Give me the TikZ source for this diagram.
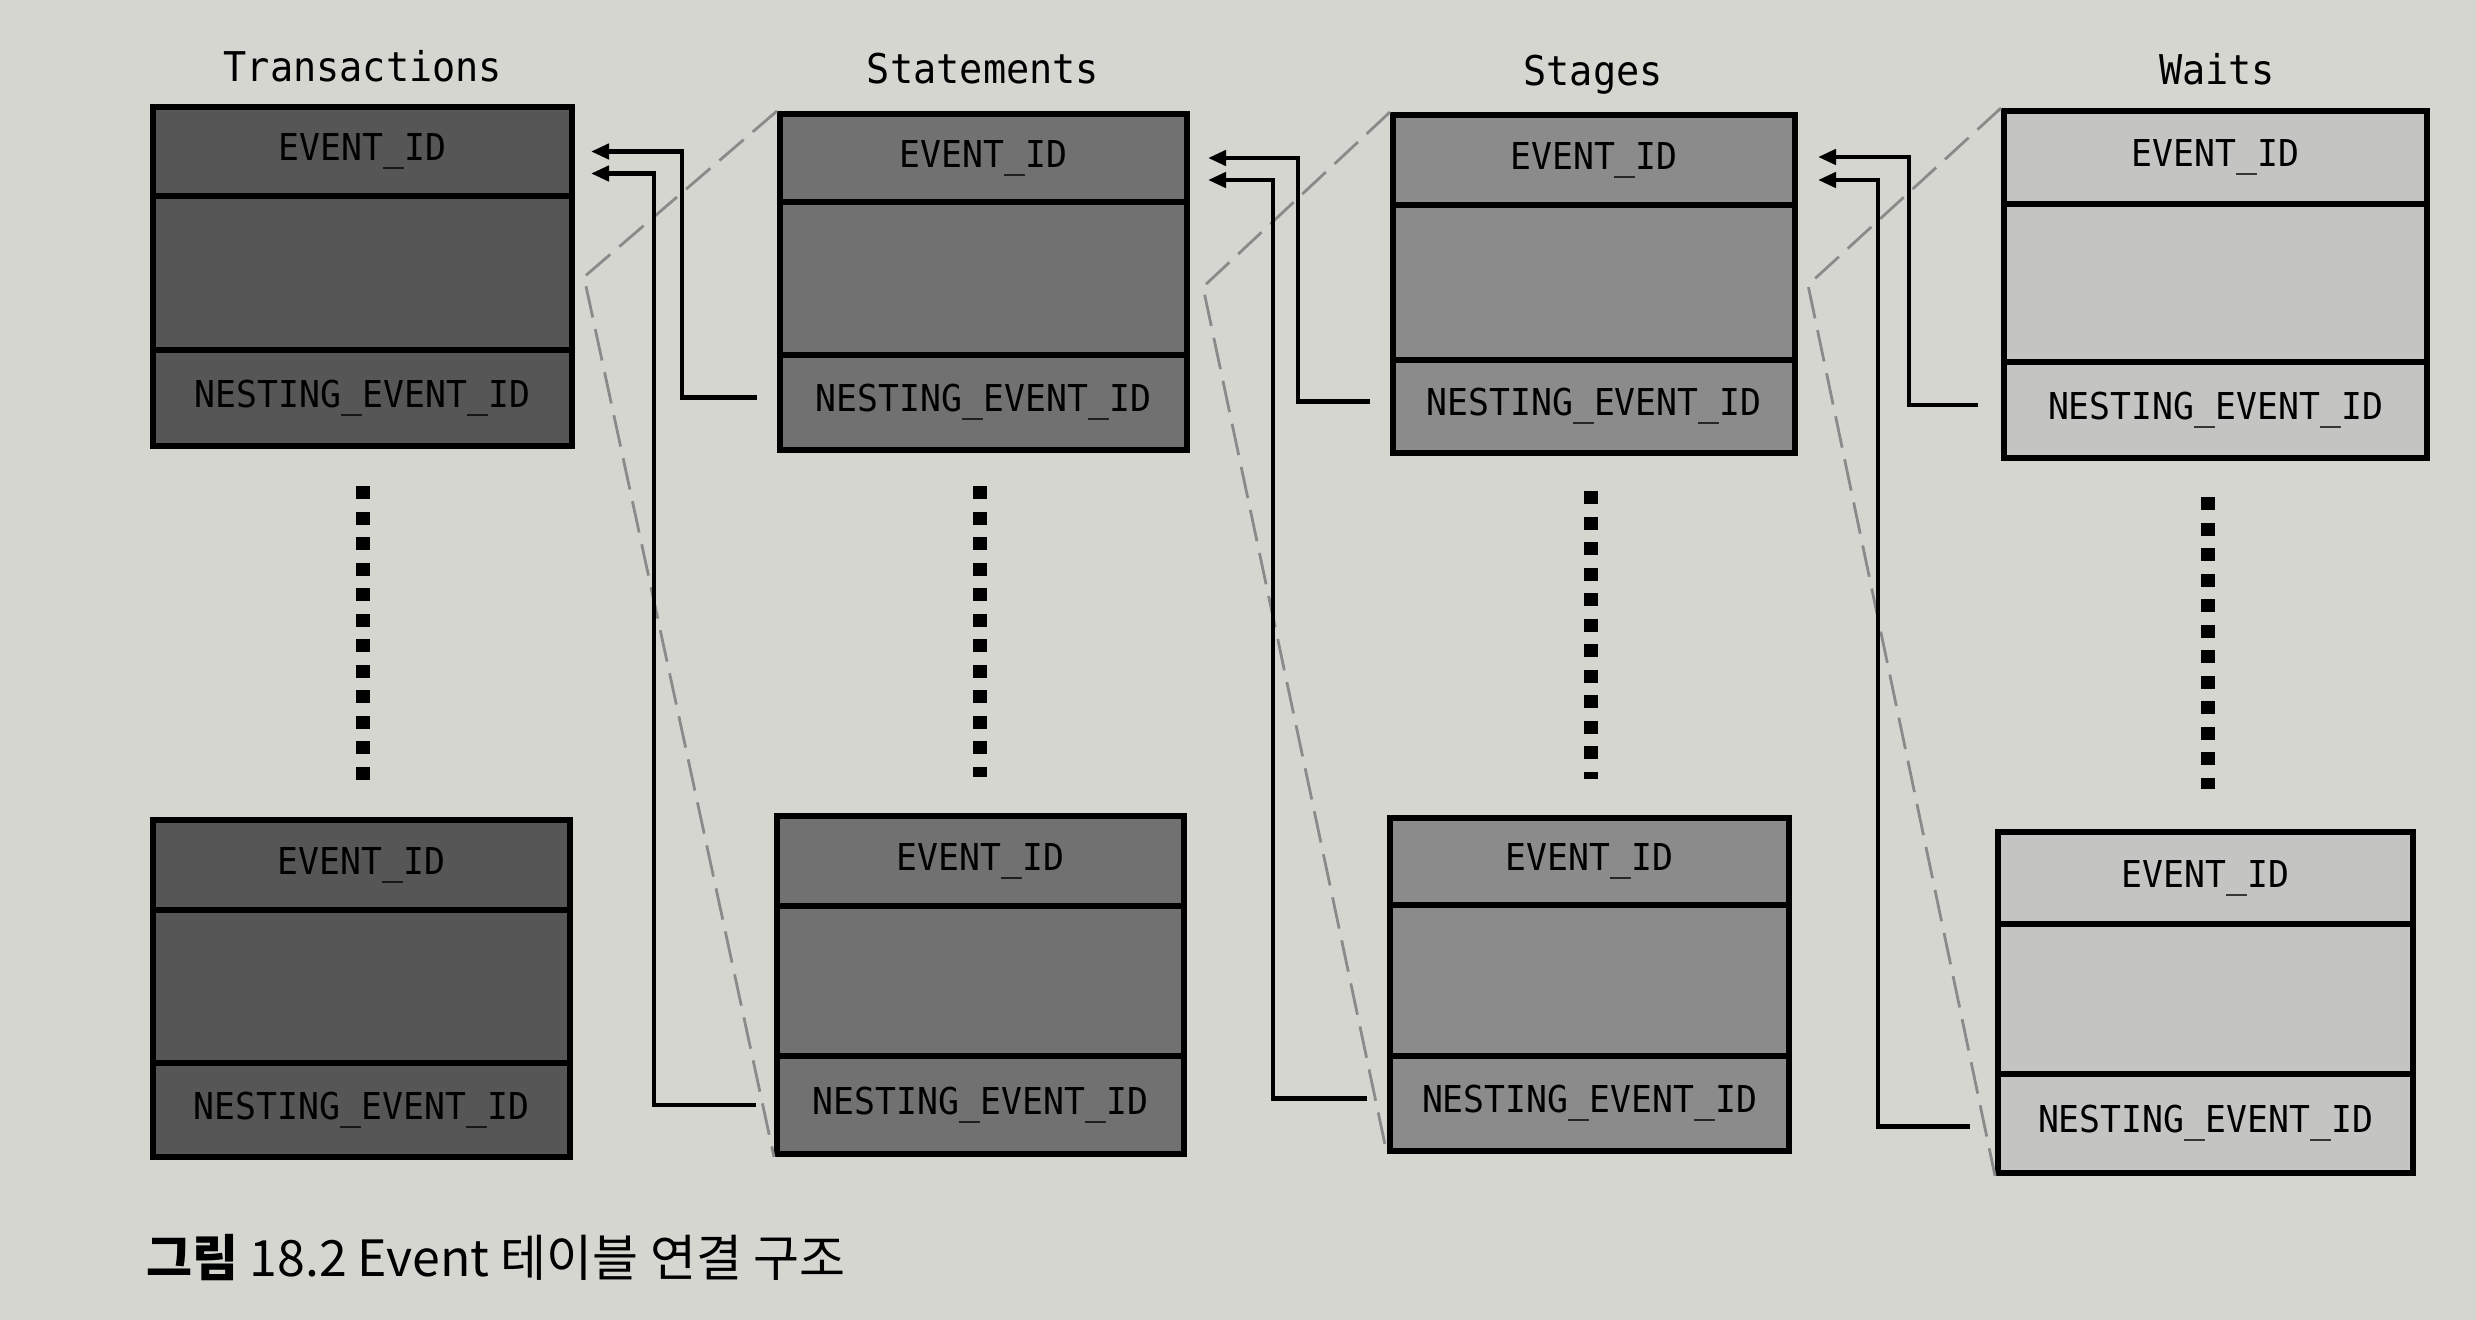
\documentclass[tikz,border=0pt]{standalone}
\usepackage{fontspec}
\usetikzlibrary{fit,calc,arrows.meta}
\newfontfamily\monof[FakeStretch=0.94]{DejaVu Sans Mono}
\newfontfamily\krfont{Noto Sans CJK KR}
\definecolor{paper}{HTML}{D6D6D1}
\definecolor{tcol}{HTML}{565656}
\definecolor{scol}{HTML}{717171}
\definecolor{stcol}{HTML}{8B8B8B}
\definecolor{wcol}{HTML}{C4C4C2}
\definecolor{dashcol}{HTML}{8A8A8A}
\tikzset{
  cell/.style={draw=black, line width=3pt, inner sep=0pt},
  celltxt/.style={inner sep=0pt, font=\monof\fontsize{18.5}{20}\selectfont},
  ttl/.style={inner sep=0pt, font=\monof\fontsize{20.5}{22}\selectfont},
  conn/.style={draw=black, line width=2.2pt},
  arr/.style={conn, -{Triangle[length=9pt,width=7.5pt]}},
  zoomline/.style={draw=dashcol, line width=1.4pt, dash pattern=on 16pt off 6pt},
  dotline/.style={draw=black, line width=7pt, dash pattern=on 6.5pt off 6.25pt},
  caption/.style={inner sep=0pt, anchor=west, font=\krfont\fontsize{25}{27}\selectfont}
}
% #1 name, #2 x left, #3 x right, #4 y top, #5 y line1, #6 y line2, #7 y bottom, #8 fill
\newcommand\evtable[8]{%
  \node[cell, fill=#8, fit={(#2,#4)(#3,#5)}] (#1id) {};
  \node[cell, fill=#8, fit={(#2,#5)(#3,#6)}] (#1mid) {};
  \node[cell, fill=#8, fit={(#2,#6)(#3,#7)}] (#1nest) {};
  \node[celltxt] (#1idt) at (#1id.center) {EVENT\_ID};
  \node[celltxt] (#1nestt) at (#1nest.center) {NESTING\_EVENT\_ID};
}
\begin{document}
\begin{tikzpicture}[x=0.5pt,y=-0.5pt]
\fill[paper] (0,0) rectangle (2476,1320);
\useasboundingbox (0,0) rectangle (2476,1320);

% titles
\node[ttl] (tT) at (363,66) {Transactions};
\node[ttl] (tS) at (983,69) {Statements};
\node[ttl] (tSt) at (1593,75) {Stages};
\node[ttl] (tW) at (2217,69) {Waits};

% upper tables
\evtable{T1}{153}{572}{107}{196}{350}{446}{tcol}
\evtable{S1}{780}{1187}{114}{202}{355}{450}{scol}
\evtable{St1}{1393}{1795}{115}{205}{360}{453}{stcol}
\evtable{W1}{2004}{2427}{111}{204}{362}{458}{wcol}

% lower tables
\evtable{T2}{153}{570}{820}{910}{1063}{1157}{tcol}
\evtable{S2}{777}{1184}{816}{906}{1056}{1154}{scol}
\evtable{St2}{1390}{1789}{818}{905}{1056}{1151}{stcol}
\evtable{W2}{1998}{2413}{832}{924}{1074}{1173}{wcol}

% vertical dotted continuations
\coordinate (dT) at ($(T1nest.south)+(0,37)$);
\coordinate (dS) at ($(S1nest.south)+(-4,33)$);
\coordinate (dSt) at ($(St1nest.south)+(-3,35)$);
\coordinate (dW) at ($(W1nest.south)+(-8,36)$);
\draw[dotline] (dT) -- ($(dT |- T2id.north)+(0,-36)$);
\draw[dotline] (dS) -- ($(dS |- S2id.north)+(0,-36)$);
\draw[dotline] (dSt) -- ($(dSt |- St2id.north)+(0,-36)$);
\draw[dotline] (dW) -- ($(dW |- W2id.north)+(0,-40)$);

% zoom (dashed) outlines
\coordinate (bS) at (584,277);
\coordinate (bSt) at (1203,287);
\coordinate (bW) at (1808,285);
\draw[zoomline] (S1id.north west) -- (bS) -- (S2nest.south west);
\draw[zoomline] (St1id.north west) -- (bSt) -- (St2nest.south west);
\draw[zoomline] (W1id.north west) -- (bW) -- (W2nest.south west);

% nesting connectors
\draw[arr] ($(S1nest.west)+(-20,-5)$) -| ($(T1id.east)+(107,0)$) -- ($(T1id.east)+(16,0)$);
\draw[arr] ($(S2nest.west)+(-18,0)$) -| ($(T1id.east)+(79,22)$) -- ($(T1id.east)+(16,22)$);
\draw[arr] ($(St1nest.west)+(-20,-5)$) -| ($(S1id.east)+(108,0)$) -- ($(S1id.east)+(18,0)$);
\draw[arr] ($(St2nest.west)+(-20,-5)$) -| ($(S1id.east)+(83,22)$) -- ($(S1id.east)+(18,22)$);
\draw[arr] ($(W1nest.west)+(-23,-5)$) -| ($(St1id.east)+(111,-3)$) -- ($(St1id.east)+(20,-3)$);
\draw[arr] ($(W2nest.west)+(-25,3)$) -| ($(St1id.east)+(80,20)$) -- ($(St1id.east)+(20,20)$);

% caption
\node[caption] (cap) at (146,1258) {{\bfseries 그림} 18.2 Event 테이블 연결 구조};
\end{tikzpicture}
\end{document}
